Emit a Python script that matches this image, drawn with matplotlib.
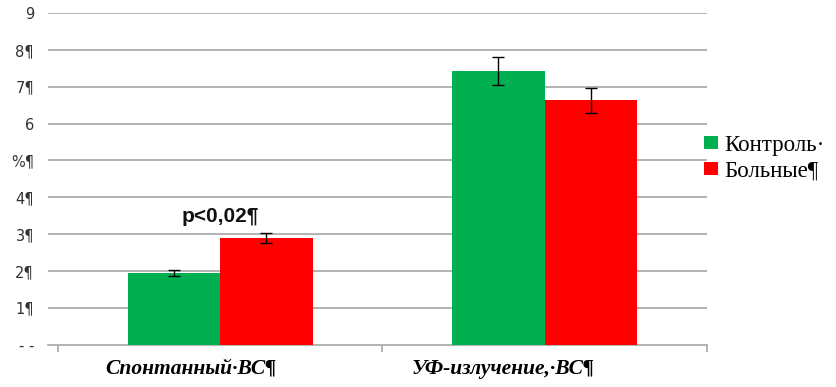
import numpy as np
import matplotlib.pyplot as plt
from matplotlib.patches import Patch

# Data
categories = ['Спонтанный·ВС¶', 'УФ-излучение,·ВС¶']
control = [1.94, 7.42]
control_err = [0.09, 0.38]
patients = [2.89, 6.63]
patients_err = [0.14, 0.34]
series_names = ['Контроль·', 'Больные¶']
y_ticks = [0, 1, 2, 3, 4, 5, 6, 7, 8, 9]
y_ticklabels = ['- -', '1¶', '2¶', '3¶', '4¶', '%¶', '6', '7¶', '8¶', '9']
p_label = 'p<0,02¶'

GREEN = '#00b050'
RED = '#ff0000'
GRID = '#a6a6a6'

fig = plt.figure(figsize=(8.37, 3.87), dpi=100)
ax = fig.add_axes([48 / 837, (387 - 344.6) / 387, (707 - 48) / 837, (344.6 - 13) / 387])

x = np.arange(len(categories))
w = 0.285
err_kw = dict(ecolor='black', elinewidth=1.0, capsize=4.5, capthick=1.0)
ax.bar(x - w / 2, control, w, yerr=control_err, color=GREEN, error_kw=err_kw, zorder=3)
ax.bar(x + w / 2, patients, w, yerr=patients_err, color=RED, error_kw=err_kw, zorder=3)

ax.set_ylim(0, 9)
ax.set_xlim(-0.53, 1.5)

# horizontal gridlines
for yv in y_ticks[1:]:
    ax.axhline(yv, color=GRID, lw=1.2, zorder=1)

for s in ['top', 'right', 'left', 'bottom']:
    ax.spines[s].set_visible(False)
ax.plot([-0.53, 1.5], [0, 0], color=GRID, lw=1.2, zorder=2, clip_on=False)

ax.set_yticks(y_ticks)
ax.set_yticklabels(y_ticklabels, fontsize=10.5, color='#333333')
ax.tick_params(axis='y', length=0, pad=10)

# category boundary ticks
ax.set_xticks([-0.5, 0.5, 1.5])
ax.set_xticklabels([])
ax.tick_params(axis='x', direction='out', length=5, color=GRID, width=1.2)

# category labels
label_dx = [-0.09, -0.13]
for xi, lab, dx in zip(x, categories, label_dx):
    ax.text(xi + dx, -0.66, lab, ha='center', va='center', fontsize=15.5,
            family='Liberation Serif', fontweight='bold', fontstyle='italic',
            transform=ax.transData, clip_on=False)

ax.text(0, 3.49, p_label, ha='center', va='center', fontsize=15,
        fontweight='bold', family='Liberation Sans', color='#111111')

handles = [Patch(facecolor=GREEN), Patch(facecolor=RED)]
fig.legend(handles, series_names, loc='center left', bbox_to_anchor=(704 / 837, 1 - 158 / 387),
           frameon=False, prop={'family': 'Liberation Serif', 'size': 16.5},
           handlelength=0.6, handleheight=0.5, handletextpad=0.3, labelspacing=0.2,
           borderaxespad=0, borderpad=0)

fig.savefig('out.png', dpi=100)
